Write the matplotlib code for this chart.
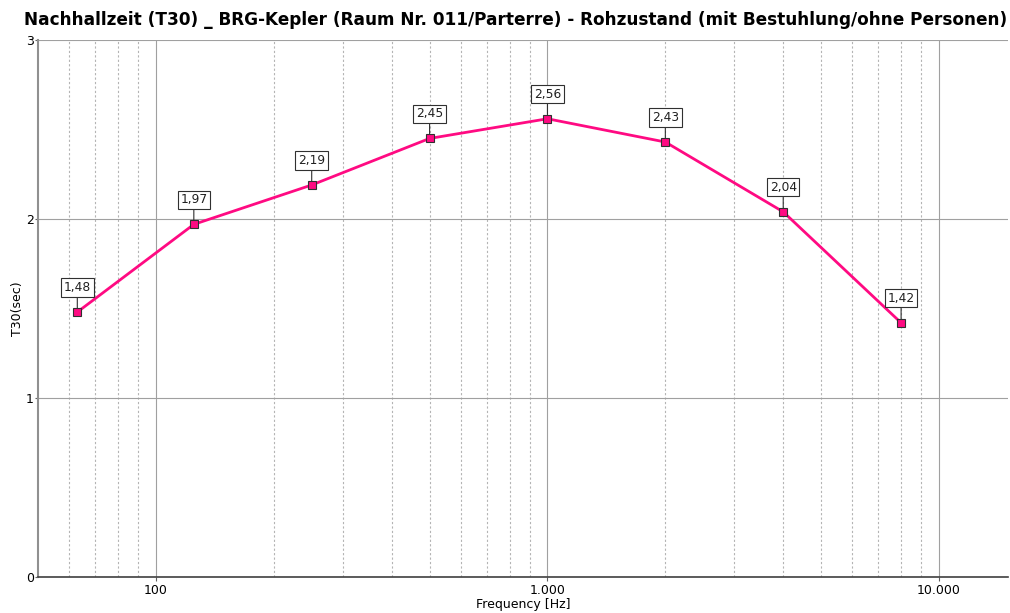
import numpy as np
import matplotlib
matplotlib.use("Agg")
import matplotlib.pyplot as plt
from matplotlib.ticker import FixedLocator, FuncFormatter, NullFormatter

TITLE = "Nachhallzeit (T30) _ BRG-Kepler (Raum Nr. 011/Parterre) - Rohzustand (mit Bestuhlung/ohne Personen)"
freqs = [63, 125, 250, 500, 1000, 2000, 4000, 8000]
t30 = [1.48, 1.97, 2.19, 2.45, 2.56, 2.43, 2.04, 1.42]
labels = ["1,48", "1,97", "2,19", "2,45", "2,56", "2,43", "2,04", "1,42"]

plt.rcParams['font.family'] = ['DejaVu Sans']

fig = plt.figure(figsize=(10.10, 6.13), dpi=100)
ax = fig.add_axes([38 / 1010, 1 - 577 / 613, 970 / 1010, 537 / 613])

ax.set_xscale('log')
ax.set_xlim(50, 15000)
ax.set_ylim(0, 3)

major = [100, 1000, 10000]
minor = [m * d for d in (10, 100, 1000) for m in range(2, 10) if 50 < m * d < 15000]
ax.xaxis.set_major_locator(FixedLocator(major))
ax.xaxis.set_minor_locator(FixedLocator(minor))
ax.xaxis.set_major_formatter(FuncFormatter(lambda v, p: f"{int(v):,}".replace(",", ".")))
ax.xaxis.set_minor_formatter(NullFormatter())
ax.set_yticks([0, 1, 2, 3])

ax.grid(True, which='major', axis='both', color='#a0a0a0', lw=0.8, ls='-')
ax.grid(True, which='minor', axis='x', color='#b4b4b4', lw=0.8, ls=(0, (2, 2)))
ax.set_axisbelow(True)

for s in ('top', 'right'):
    ax.spines[s].set_visible(False)
ax.spines['left'].set_color('#909090')
ax.spines['left'].set_linewidth(1.5)
ax.spines['bottom'].set_color('#404040')
ax.spines['bottom'].set_linewidth(1.2)

ax.tick_params(axis='x', which='major', length=3, color='#606060', labelsize=9, pad=2)
ax.tick_params(axis='x', which='minor', length=0)
ax.tick_params(axis='y', length=2, color='#606060', labelsize=9, pad=1)

ax.plot(freqs, t30, color='#ff0a82', lw=2, zorder=3)
ax.plot(freqs, t30, ls='none', marker='s', ms=5.5, mfc='#ff0a82', mec='#303030', mew=0.8, zorder=4)

for f, v, lab in zip(freqs, t30, labels):
    ax.annotate(lab, xy=(f, v), xytext=(0, 13), textcoords='offset points',
                ha='center', va='bottom', fontsize=8.8, color='#202020',
                bbox=dict(boxstyle='square,pad=0.22', fc='white', ec='#303030', lw=0.8),
                arrowprops=dict(arrowstyle='-', color='#303030', lw=0.8, shrinkA=0, shrinkB=3),
                zorder=5)

ax.set_xlabel('Frequency [Hz]', fontsize=9, labelpad=1)
ax.set_ylabel('T30(sec)', fontsize=9, labelpad=1)
fig.text(516 / 1010, 1 - 20 / 613, TITLE, ha='center', va='center', fontsize=12.2, fontweight='bold')

fig.savefig('out.png', dpi=100, facecolor='white')
